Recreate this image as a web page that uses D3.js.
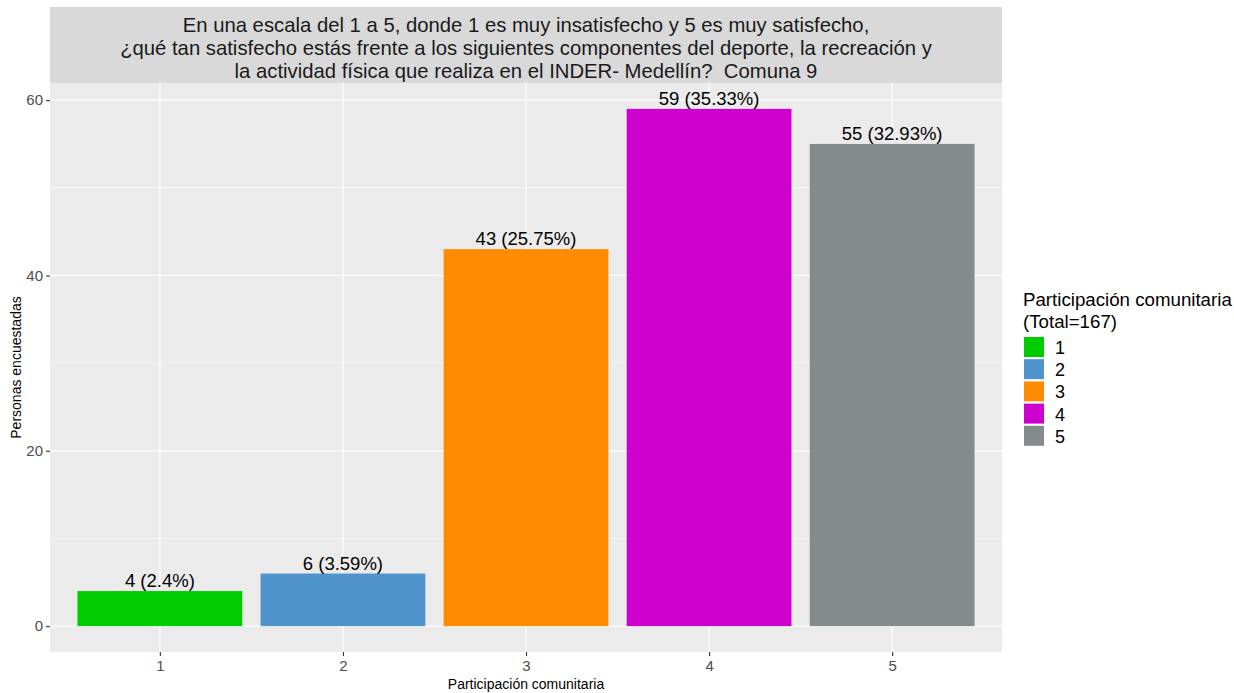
<!DOCTYPE html>
<html><head><meta charset="utf-8">
<script src="https://cdn.jsdelivr.net/npm/d3@7"></script>
<style>body{margin:0;background:#fff}svg{display:block;font-family:"Liberation Sans",Arial,sans-serif}</style>
</head><body>
<svg id="c" width="1234" height="693"></svg>
<script>
const categories = ["1","2","3","4","5"];
const values = [4, 6, 43, 59, 55];
const labels = ["4 (2.4%)","6 (3.59%)","43 (25.75%)","59 (35.33%)","55 (32.93%)"];
const colors = ["#00CC00","#4F94CD","#FF8C00","#CD00CD","#838B8B"];
const yTicks = [0, 20, 40, 60];
const yMinor = [10, 30, 50];
const titleLines = [
  "En una escala del 1 a 5, donde 1 es muy insatisfecho y 5 es muy satisfecho,",
  "¿qué tan satisfecho estás frente a los siguientes componentes del deporte, la recreación y",
  "la actividad física que realiza en el INDER- Medellín?  Comuna 9"
];
const legendTitle = ["Participación comunitaria", "(Total=167)"];

const svg = d3.select("#c");
const P = {l: 50, r: 1002, t: 83, b: 652};
const maxV = d3.max(values);
const y = d3.scaleLinear().domain([-0.05*maxV, maxV*1.05]).range([P.b, P.t]);
const x = d3.scalePoint().domain(categories).range([P.l, P.r]).padding(0.6);
const step = x.step();
const bw = step * 0.9;

// title strip
svg.append("rect").attr("x", P.l).attr("y", 7).attr("width", P.r-P.l).attr("height", P.t-7).attr("fill","#D9D9D9");
svg.append("g").selectAll("text").data(titleLines).join("text")
  .attr("x", (P.l+P.r)/2).attr("y", (d,i)=>32+i*23).attr("text-anchor","middle")
  .attr("xml:space","preserve").style("white-space","pre")
  .attr("font-size", 20.3).attr("fill","#1A1A1A").text(d=>d);

// panel
svg.append("rect").attr("x",P.l).attr("y",P.t).attr("width",P.r-P.l).attr("height",P.b-P.t).attr("fill","#EBEBEB");
svg.append("g").selectAll("line").data(yMinor).join("line")
  .attr("x1",P.l).attr("x2",P.r).attr("y1",d=>y(d)).attr("y2",d=>y(d)).attr("stroke","#fff").attr("stroke-width",0.6);
svg.append("g").selectAll("line").data(yTicks).join("line")
  .attr("x1",P.l).attr("x2",P.r).attr("y1",d=>y(d)).attr("y2",d=>y(d)).attr("stroke","#fff").attr("stroke-width",1.2);
svg.append("g").selectAll("line").data(categories).join("line")
  .attr("y1",P.t).attr("y2",P.b).attr("x1",d=>x(d)).attr("x2",d=>x(d)).attr("stroke","#fff").attr("stroke-width",1.2);

// bars
svg.append("g").selectAll("rect").data(values).join("rect")
  .attr("x",(d,i)=>x(categories[i])-bw/2).attr("width",bw)
  .attr("y",d=>y(d)).attr("height",d=>y(0)-y(d)).attr("fill",(d,i)=>colors[i]);
svg.append("g").selectAll("text").data(values).join("text")
  .attr("x",(d,i)=>x(categories[i])).attr("y",d=>y(d)-4).attr("text-anchor","middle")
  .attr("font-size",18.5).attr("fill","#000").text((d,i)=>labels[i]);

// axes
const ya = svg.append("g").attr("transform",`translate(${P.l},0)`)
  .call(d3.axisLeft(y).tickValues(yTicks).tickSize(4).tickPadding(3));
ya.select(".domain").remove();
ya.selectAll("line").attr("stroke","#333").attr("stroke-width",1.1);
ya.selectAll("text").attr("font-size",15).attr("fill","#4D4D4D").attr("font-family","Liberation Sans, Arial, sans-serif");
const xa = svg.append("g").attr("transform",`translate(0,${P.b})`)
  .call(d3.axisBottom(x).tickSize(4).tickPadding(4));
xa.select(".domain").remove();
xa.selectAll("line").attr("stroke","#333").attr("stroke-width",1.1);
xa.selectAll("text").attr("font-size",15).attr("fill","#4D4D4D").attr("font-family","Liberation Sans, Arial, sans-serif");

svg.append("text").attr("x",(P.l+P.r)/2).attr("y",689).attr("text-anchor","middle")
  .attr("font-size",14).attr("fill","#000").text("Participación comunitaria");
svg.append("text").attr("transform",`translate(21,${(P.t+P.b)/2}) rotate(-90)`).attr("text-anchor","middle")
  .attr("font-size",14).attr("fill","#000").text("Personas encuestadas");

// legend
const lg = svg.append("g");
lg.selectAll("text.t").data(legendTitle).join("text").attr("class","t")
  .attr("x",1023).attr("y",(d,i)=>306+i*22).attr("font-size",18.7).attr("fill","#000").text(d=>d);
lg.selectAll("rect").data(categories).join("rect")
  .attr("x",1024).attr("y",(d,i)=>337+i*22.2).attr("width",20).attr("height",20).attr("fill",(d,i)=>colors[i]);
lg.selectAll("text.k").data(categories).join("text").attr("class","k")
  .attr("x",1055).attr("y",(d,i)=>354+i*22.2).attr("font-size",18).attr("fill","#000").text(d=>d);
</script>
</body></html>
